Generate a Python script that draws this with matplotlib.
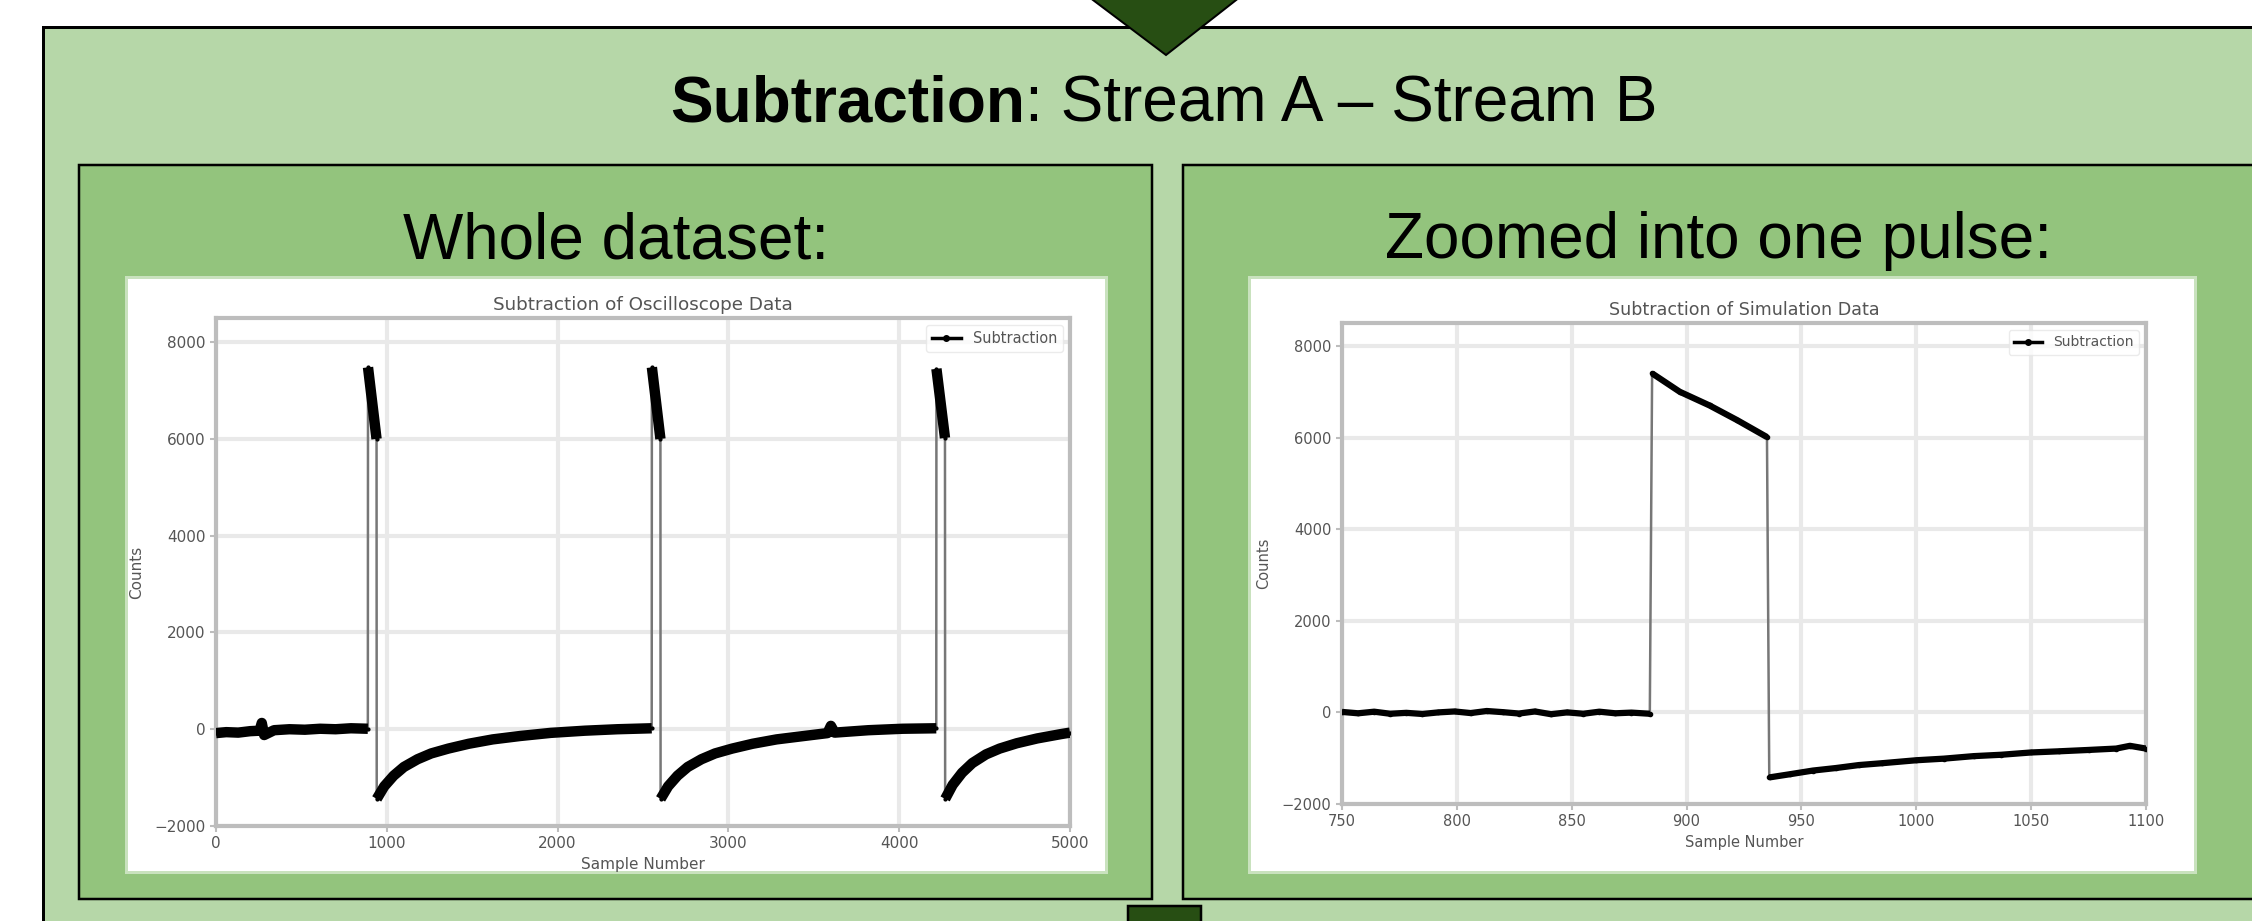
import matplotlib
matplotlib.use("Agg")
import matplotlib.pyplot as plt
import numpy as np
from matplotlib.patches import Rectangle, Polygon
from matplotlib.lines import Line2D

W, H = 2252, 921
PX = 72.0 / 100  # points per pixel at dpi 100

# left panel: whole oscilloscope trace (three pulses)
osc_sample = [0, 60, 130, 200, 255, 268, 282, 340, 430, 520, 610, 700, 790, 889,
              890, 940,
              941, 985, 1040, 1100, 1180, 1260, 1360, 1480, 1620, 1780, 1960, 2160, 2350, 2551,
              2552, 2602,
              2603, 2647, 2702, 2762, 2842, 2922, 3022, 3142, 3282, 3442, 3580, 3600, 3622,
              3820, 4020, 4217,
              4218, 4268,
              4269, 4313, 4368, 4428, 4508, 4588, 4688, 4808, 4948, 5000]
osc_counts = [-80, -60, -70, -40, -30, 130, -120, -20, 0, -10, 10, 0, 20, 10,
              7480, 6000,
              -1440, -1180, -960, -780, -620, -500, -400, -300, -210, -140, -75, -30, 0, 20,
              7480, 6000,
              -1440, -1180, -960, -780, -620, -500, -400, -300, -210, -140, -80, 70, -70,
              -20, 10, 20,
              7450, 6020,
              -1440, -1150, -900, -700, -520, -400, -290, -190, -100, -70]

# right panel: one simulated pulse
sim_sample = [750, 757, 764, 771, 778, 785, 792, 799, 806, 813, 820, 827, 834, 841, 848,
              855, 862, 869, 876, 884,
              885, 897, 910, 922, 935,
              936, 945, 955, 965, 975, 985, 1000, 1012, 1025, 1037, 1050, 1062, 1075,
              1087, 1093, 1100]
sim_counts = [10, -20, 15, -30, -10, -35, 0, 20, -15, 30, 5, -25, 20, -40, 0,
              -30, 15, -20, -5, -30,
              7400, 7000, 6700, 6380, 6010,
              -1420, -1350, -1270, -1215, -1150, -1110, -1045, -1010, -955, -925, -875,
              -850, -820, -790, -730, -790]

osc_xticks = [0, 1000, 2000, 3000, 4000, 5000]
sim_xticks = [750, 800, 850, 900, 950, 1000, 1050, 1100]
count_ticks = [-2000, 0, 2000, 4000, 6000, 8000]

main_bold = "Subtraction"
main_rest = ": Stream A \u2013 Stream B"
panel_titles = ["Whole dataset:", "Zoomed into one pulse:"]
plot_titles = ["Subtraction of Oscilloscope Data", "Subtraction of Simulation Data"]

LIGHT = "#b6d7a8"
MID = "#93c47d"
DARK = "#274e13"
HEAD_FONT = ["Liberation Sans", "DejaVu Sans"]


def draw_trace(ax, x, y, thick_lw, msize):
    x = np.asarray(x, float)
    y = np.asarray(y, float)
    ax.plot(x, y, color="#777777", lw=1.8, zorder=2)
    # break at the big jumps so only the noisy runs get the heavy stroke
    jump = np.abs(np.diff(y)) > 3000
    xs, ys = [x[0]], [y[0]]
    for i in range(1, len(x)):
        if jump[i - 1]:
            xs.append(np.nan)
            ys.append(np.nan)
        xs.append(x[i])
        ys.append(y[i])
    ax.plot(xs, ys, color="black", lw=thick_lw, marker=".", ms=msize,
            solid_capstyle="butt", zorder=3)


def style_axes(ax, xticks, title, fs, ylabpad):
    ax.set_xlim(xticks[0], xticks[-1])
    ax.set_ylim(-2000, 8500)
    ax.set_xticks(xticks)
    ax.set_yticks(count_ticks)
    ax.grid(True, color="#e9e9e9", lw=3)
    ax.set_axisbelow(True)
    for s in ax.spines.values():
        s.set_color("#bdbdbd")
        s.set_linewidth(3)
    ax.tick_params(colors="#bdbdbd", labelcolor="#555555", labelsize=fs,
                   length=4, width=1.5)
    ax.set_xlabel("Sample Number", fontsize=fs, color="#555555")
    ax.set_ylabel("Counts", fontsize=fs, color="#555555", labelpad=ylabpad)
    ax.set_title(title, fontsize=fs * 1.2, color="#555555")
    handle = Line2D([], [], color="black", lw=2.5, marker="o", ms=4)
    leg = ax.legend([handle], ["Subtraction"], loc="upper right", fontsize=fs * 0.95,
                    frameon=True, edgecolor="#e6e6e6")
    for t in leg.get_texts():
        t.set_color("#555555")


fig = plt.figure(figsize=(W / 100, H / 100), dpi=100)
bg = fig.add_axes([0, 0, 1, 1])
bg.set_xlim(0, W)
bg.set_ylim(H, 0)
bg.axis("off")

# outer box
bg.add_patch(Rectangle((43, 27), 2400, 1000, facecolor=LIGHT, edgecolor="black", lw=3 * PX))
# inner boxes
for x0 in (79, 1183):
    bg.add_patch(Rectangle((x0, 165), 1073, 734, facecolor=MID, edgecolor="black",
                           lw=2.5 * PX))
# white plot cards
bg.add_patch(Rectangle((126, 277), 980, 595, facecolor="white", edgecolor="#c9e2be",
                       lw=3 * PX))
bg.add_patch(Rectangle((1249, 277), 946, 595, facecolor="white", edgecolor="#c9e2be",
                       lw=3 * PX))
# arrows in and out
bg.add_patch(Polygon([(1089, -3), (1240, -3), (1166, 55)], closed=True, facecolor=DARK,
                     edgecolor="black", lw=2 * PX))
bg.add_patch(Rectangle((1128, 906), 73, 40, facecolor=DARK, edgecolor="black", lw=2.5 * PX))

# headings
t1 = bg.text(0, 121, main_bold, fontsize=46, fontweight="bold", family=HEAD_FONT,
             va="baseline", ha="left")
t2 = bg.text(0, 121, main_rest, fontsize=46, family=HEAD_FONT, va="baseline", ha="left")
bg.text(616, 258, panel_titles[0], fontsize=46, family=HEAD_FONT, va="baseline", ha="center")
bg.text(1719, 258, panel_titles[1], fontsize=46, family=HEAD_FONT, va="baseline", ha="center")

fig.canvas.draw()
r = fig.canvas.get_renderer()
w1 = t1.get_window_extent(r).width
w2 = t2.get_window_extent(r).width
x0 = 1164 - (w1 + w2) / 2
t1.set_x(x0)
t2.set_x(x0 + w1)

# plots
axL = fig.add_axes([216 / W, 1 - 826 / H, 854 / W, 508 / H])
draw_trace(axL, osc_sample, osc_counts, 7.5, 4)
style_axes(axL, osc_xticks, plot_titles[0], 11, 7)

axR = fig.add_axes([1342 / W, 1 - 804 / H, 804 / W, 481 / H])
draw_trace(axR, sim_sample, sim_counts, 4.5, 6)
style_axes(axR, sim_xticks, plot_titles[1], 10.5, 8)

fig.savefig("out.png", dpi=100)
